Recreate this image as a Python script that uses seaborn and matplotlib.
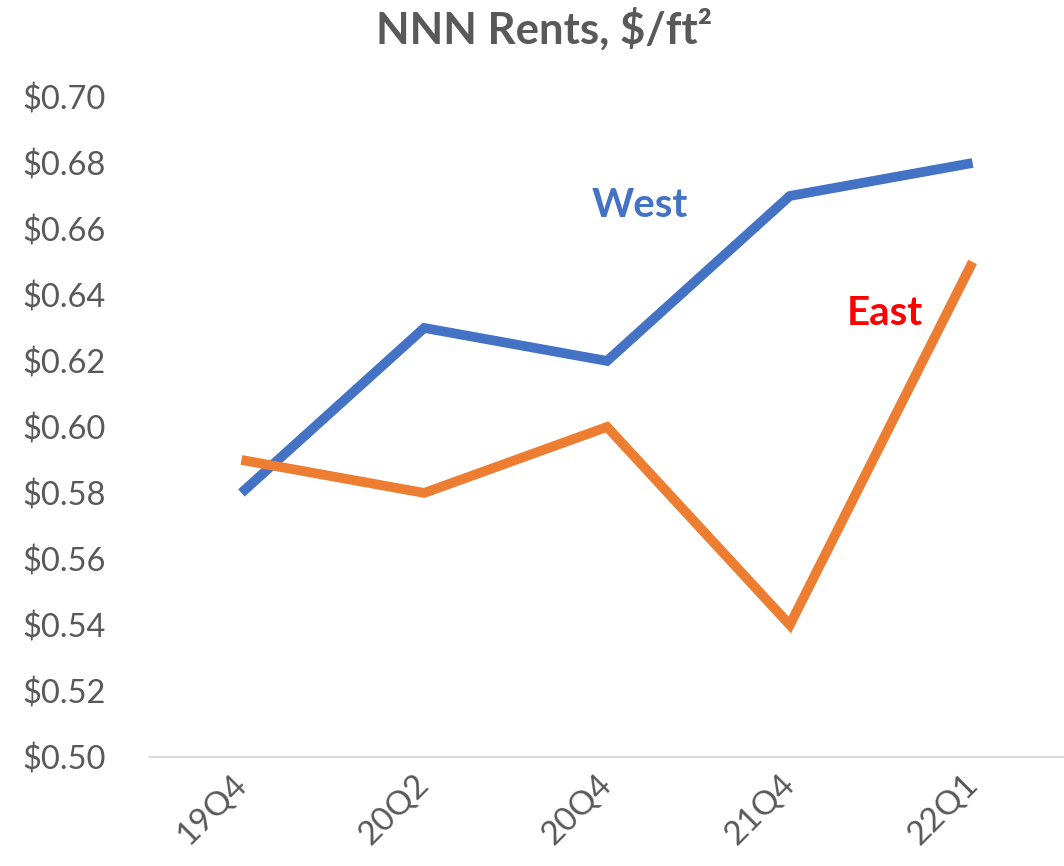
import matplotlib
matplotlib.use("Agg")
import matplotlib.pyplot as plt
import seaborn as sns
import pandas as pd
from matplotlib.ticker import FuncFormatter

quarters = ["19Q4", "20Q2", "20Q4", "21Q4", "22Q1"]
west = [0.58, 0.63, 0.62, 0.67, 0.68]
east = [0.59, 0.58, 0.60, 0.54, 0.65]
y_ticks = [0.50, 0.52, 0.54, 0.56, 0.58, 0.60, 0.62, 0.64, 0.66, 0.68, 0.70]

sns.set_theme(style="white")
plt.rcParams["font.family"] = ["Lato", "DejaVu Sans"]

df = pd.DataFrame({
    "quarter": quarters * 2,
    "rent": west + east,
    "region": ["West"] * len(quarters) + ["East"] * len(quarters),
})

fig = plt.figure(figsize=(10.64, 8.66), dpi=100)
ax = fig.add_axes([0.141, 0.126, 0.859, 0.762])

palette = {"West": "#4472C4", "East": "#ED7D31"}
sns.lineplot(data=df, x="quarter", y="rent", hue="region", palette=palette,
             linewidth=7, sort=False, legend=False, ax=ax)
for line in ax.lines:
    line.set_solid_joinstyle("miter")
    line.set_solid_capstyle("butt")

ax.set_xlim(-0.5, len(quarters) - 0.5)
ax.set_ylim(0.50, 0.70)
ax.set_yticks(y_ticks)
ax.yaxis.set_major_formatter(FuncFormatter(lambda v, _: f"${v:.2f}"))
ax.set_xlabel("")
ax.set_ylabel("")

for side in ["top", "right", "left"]:
    ax.spines[side].set_visible(False)
ax.spines["bottom"].set_color("#D9D9D9")
ax.spines["bottom"].set_linewidth(1.5)

ax.tick_params(axis="y", length=0, pad=32, labelsize=23.5, labelcolor="#595959")
ax.tick_params(axis="x", length=0, pad=16, labelsize=24, labelcolor="#595959")
for lbl in ax.get_xticklabels():
    lbl.set_rotation(45)
    lbl.set_ha("right")
    lbl.set_va("center")
    lbl.set_rotation_mode("anchor")

ax.text(2.18, 0.667, "West", color="#4472C4", fontsize=29, fontweight="bold",
        ha="center", va="center")
ax.text(3.52, 0.6345, "East", color="#FF0000", fontsize=29, fontweight="bold",
        ha="center", va="center")

fig.text(0.511, 0.966, "NNN Rents, $/ft\u00b2", ha="center", va="center",
         fontsize=31.5, fontweight="bold", color="#595959")

fig.savefig("out.png", dpi=100)
